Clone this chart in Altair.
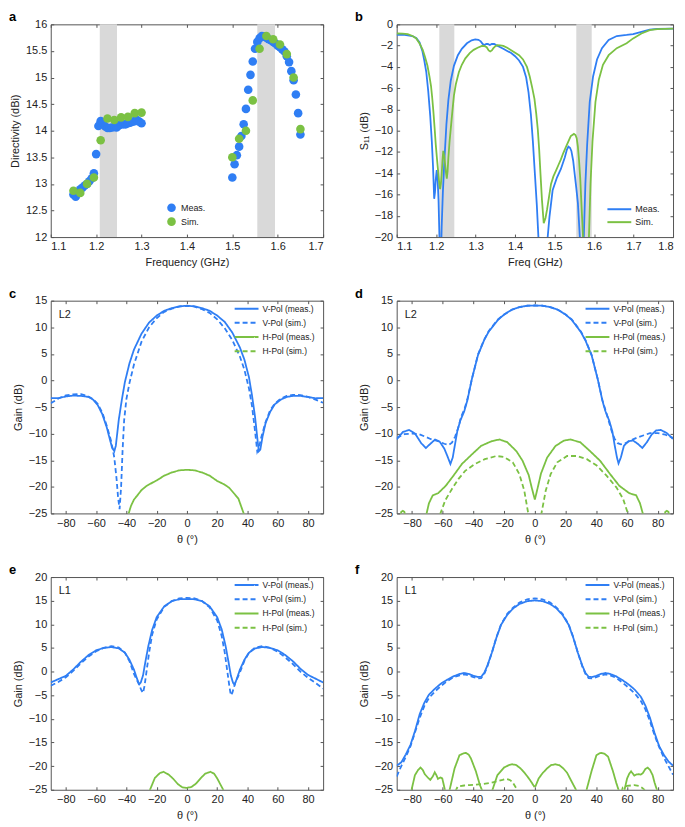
import altair as alt
import pandas as pd

FONT = "Liberation Sans"
BLUE = "#2f7ef4"
GREEN = "#7bc143"
BAND = "#d9d9d9"
FRAME = "#555555"
TXT = "#222222"

W1, W2, H = 274, 278, 214

# ---------------- panel a : directivity ----------------
a_meas_x = [1.150, 1.155, 1.160, 1.165, 1.170, 1.175, 1.180, 1.185, 1.190, 1.195, 1.200, 1.205, 1.210, 1.215, 1.220, 1.225,
            1.230, 1.235, 1.240, 1.245, 1.250, 1.255, 1.260, 1.265, 1.270, 1.275, 1.280, 1.285, 1.290, 1.295, 1.300,
            1.500, 1.505, 1.510, 1.515, 1.520, 1.525, 1.530, 1.535, 1.540, 1.545, 1.550, 1.555, 1.560, 1.565, 1.570,
            1.575, 1.580, 1.585, 1.590, 1.595, 1.600, 1.605, 1.610, 1.615, 1.620, 1.625, 1.630, 1.635, 1.640, 1.645, 1.650]
a_meas_y = [12.80, 12.76, 12.85, 12.90, 12.93, 12.97, 13.00, 13.05, 13.10, 13.20, 13.56, 14.09, 14.18, 14.15, 14.08, 14.05,
            14.05, 14.06, 14.07, 14.06, 14.10, 14.12, 14.12, 14.12, 14.14, 14.15, 14.17, 14.18, 14.20, 14.17, 14.14,
            13.12, 13.37, 13.54, 13.70, 13.90, 14.12, 14.41, 14.77, 15.05, 15.30, 15.54, 15.67, 15.74, 15.78, 15.77,
            15.75, 15.72, 15.70, 15.67, 15.64, 15.60, 15.57, 15.53, 15.49, 15.40, 15.29, 15.12, 14.95, 14.68, 14.33, 13.93]
a_sim_x = [1.150, 1.165, 1.180, 1.195, 1.210, 1.225, 1.240, 1.255, 1.270, 1.285, 1.300,
           1.500, 1.515, 1.530, 1.545, 1.560, 1.575, 1.590, 1.605, 1.620, 1.635, 1.650]
a_sim_y = [12.87, 12.83, 13.00, 13.12, 13.82, 14.23, 14.20, 14.25, 14.26, 14.33, 14.34,
           13.50, 13.85, 14.00, 14.57, 15.54, 15.78, 15.72, 15.62, 15.44, 15.00, 14.03]

band_lo = [1.208, 1.555]
band_hi = [1.246, 1.594]

# ---------------- panel b : S11 ----------------
b_meas_x = [1.100, 1.120, 1.140, 1.150, 1.158, 1.165, 1.170, 1.175, 1.180, 1.185, 1.189, 1.192, 1.195, 1.197, 1.199,
            1.2015, 1.204, 1.206, 1.208, 1.211, 1.214, 1.217, 1.221, 1.226, 1.231, 1.237, 1.245, 1.255, 1.265, 1.278,
            1.290, 1.299, 1.307, 1.313, 1.318, 1.322, 1.327, 1.331, 1.336, 1.341, 1.347, 1.352, 1.360, 1.370, 1.380,
            1.390, 1.400, 1.410, 1.420, 1.428, 1.434, 1.440, 1.445, 1.450, 1.455, 1.459, 1.470, 1.4825, 1.487, 1.495,
            1.506, 1.516, 1.526, 1.531, 1.535, 1.539, 1.5425, 1.547, 1.551, 1.555, 1.559, 1.564, 1.569, 1.574, 1.578,
            1.5825, 1.589, 1.5975, 1.6075, 1.620, 1.637, 1.6575, 1.6825, 1.699, 1.720, 1.741, 1.760, 1.800]
b_meas_y = [-1.0, -1.0, -1.1, -1.3, -1.7, -2.5, -3.4, -4.5, -6.3, -8.6, -11.0, -13.3, -16.4, -15.8, -14.6,
            -13.7, -14.8, -16.5, -19.5, -24.0, -19.0, -15.8, -12.7, -9.4, -7.1, -5.3, -3.9, -2.9, -2.3, -1.78,
            -1.5, -1.41, -1.45, -1.6, -1.85, -1.95, -1.85, -1.85, -1.95, -1.85, -1.85, -1.95, -2.1, -2.3, -2.5,
            -2.7, -3.0, -3.4, -4.0, -5.0, -6.4, -8.5, -11.0, -14.0, -17.0, -20.0, -28.0, -20.0, -18.1, -15.6,
            -14.4, -13.6, -12.5, -11.8, -11.5, -11.6, -11.9, -12.8, -14.1, -15.4, -16.8, -20.0, -26.0, -20.0, -15.0,
            -11.3, -7.3, -4.9, -3.3, -2.24, -1.47, -1.1, -1.0, -0.92, -0.7, -0.49, -0.42, -0.4]
b_sim_x = [1.100, 1.115, 1.128, 1.140, 1.149, 1.158, 1.166, 1.172, 1.178, 1.183, 1.187, 1.190, 1.193, 1.196, 1.199,
           1.202, 1.205, 1.208, 1.210, 1.212, 1.214, 1.216, 1.218, 1.2205, 1.2225, 1.225, 1.227, 1.229, 1.231, 1.234,
           1.237, 1.241, 1.245, 1.250, 1.2575, 1.265, 1.274, 1.285, 1.295, 1.305, 1.316, 1.323, 1.328, 1.333, 1.337,
           1.341, 1.345, 1.350, 1.355, 1.362, 1.370, 1.380, 1.395, 1.410, 1.420, 1.430, 1.437, 1.443, 1.449, 1.4535,
           1.4575, 1.461, 1.4645, 1.468, 1.4725, 1.477, 1.481, 1.486, 1.491, 1.497, 1.503, 1.510, 1.516, 1.522, 1.528,
           1.535, 1.541, 1.549, 1.553, 1.556, 1.559, 1.562, 1.565, 1.5675, 1.572, 1.579, 1.587, 1.591, 1.596, 1.6035,
           1.612, 1.6225, 1.637, 1.6575, 1.6825, 1.699, 1.720, 1.741, 1.760, 1.800]
b_sim_y = [-0.86, -0.88, -0.92, -1.1, -1.3, -1.8, -2.4, -3.1, -3.9, -4.9, -5.8, -6.9, -8.2, -9.7, -11.3,
           -12.6, -13.8, -15.0, -15.5, -15.0, -14.1, -12.8, -11.9, -12.4, -13.1, -14.0, -14.5, -13.8, -12.5, -11.0,
           -9.8, -8.2, -6.7, -5.6, -4.5, -3.8, -3.2, -2.7, -2.4, -2.2, -2.03, -2.05, -2.15, -2.45, -2.55,
           -2.45, -2.24, -2.05, -1.96, -1.97, -2.03, -2.2, -2.55, -2.9, -3.3, -4.0, -4.9, -5.9, -7.0, -8.4,
           -9.9, -11.8, -14.2, -16.5, -18.7, -18.2, -17.4, -16.2, -15.0, -14.3, -13.8, -13.2, -12.7, -12.1, -11.6,
           -11.0, -10.5, -10.3, -10.4, -10.7, -11.5, -12.8, -14.5, -16.5, -20.0, -26.0, -20.0, -15.0, -11.0, -7.3,
           -5.2, -3.8, -2.9, -2.24, -1.78, -1.32, -0.86, -0.55, -0.45, -0.4]

# ---------------- panel c : L2 ----------------
c_vm_t = [-90, -85, -80, -75, -70, -65, -62, -59, -56, -53, -51, -49.5, -48, -47, -46, -45, -43, -41, -38, -35, -30, -25,
          -20, -15, -10, -5, 0, 5, 10, 15, 20, 25, 30, 35, 38, 41, 43, 45, 46.5, 47.5, 48.5, 50, 52, 55, 58, 62, 66,
          70, 75, 80, 85, 90]
c_vm_g = [-3.3, -3.35, -3.0, -2.85, -2.9, -3.1, -3.6, -4.6, -6.3, -8.8, -11.0, -12.6, -13.3, -12.3, -9.8, -7.3, -3.6,
          -0.3, 3.2, 5.8, 8.8, 10.9, 12.2, 13.1, 13.6, 13.95, 14.05, 13.95, 13.6, 13.1, 12.2, 11.0, 9.0, 6.2, 3.9, 0.6,
          -2.8, -6.8, -10.8, -13.3, -13.0, -10.5, -8.0, -5.9, -4.5, -3.6, -3.1, -2.9, -2.9, -3.1, -3.35, -3.3]
c_vs_t = [-90, -85, -80, -75, -70, -66, -62, -59, -56, -53, -50, -48, -46.5, -45.5, -44.5, -43.5, -42.5, -41.5, -40,
          -38, -35, -30, -25, -20, -15, -10, -5, 0, 5, 10, 15, 20, 25, 30, 35, 38, 41, 43, 45, 46.5, 47.5, 49, 52,
          55, 58, 62, 66, 70, 75, 80, 85, 90]
c_vs_g = [-4.3, -3.4, -2.8, -2.6, -2.55, -2.9, -3.5, -4.4, -6.0, -8.5, -11.5, -14.5, -18.5, -22.0, -24.2, -20.0,
          -13.0, -7.5, -3.5, -0.5, 3.0, 7.3, 10.0, 11.7, 12.9, 13.5, 13.9, 14.0, 13.9, 13.4, 12.7, 11.5, 9.8, 7.6,
          4.5, 2.0, -1.5, -4.8, -9.5, -13.4, -12.8, -10.8, -7.8, -5.6, -4.4, -3.4, -2.9, -2.7, -2.75, -3.1, -3.6, -4.2]
c_hm_t = [-40, -38.5, -37, -35, -33, -30, -27, -24, -20, -15, -10, -5, 0, 5, 10, 15, 20, 25, 28, 31, 34, 36,
          37.5, 39]
c_hm_g = [-27.0, -25.0, -23.6, -22.4, -21.7, -20.6, -19.9, -19.4, -18.8, -17.9, -17.3, -16.9, -16.8, -16.9, -17.3,
          -17.9, -18.9, -19.6, -20.2, -21.2, -22.2, -23.8, -25.0, -27.0]

# ---------------- panel d : L2 ----------------
d_vm_t = [-90, -86, -82, -78, -74, -71, -68, -65, -62, -59, -57, -55, -53.5, -52, -50.5, -48.5, -46, -44, -41, -37,
          -33, -30, -24, -20, -15, -10, -5, 0, 5, 10, 15, 20, 24, 30, 33, 37, 41, 44, 46, 48.5, 50.5, 52, 53.5,
          54.5, 56, 58, 61, 64, 67, 70, 73, 76, 79, 82, 86, 90]
d_vm_g = [-11.1, -9.7, -9.3, -10.0, -11.8, -12.7, -11.9, -11.1, -11.5, -12.8, -14.2, -15.7, -14.5, -12.0, -9.5,
          -7.5, -5.8, -3.8, 0.3, 4.8, 7.6, 9.2, 11.4, 12.4, 13.3, 13.8, 14.05, 14.1, 14.05, 13.8, 13.3, 12.4, 11.4,
          9.1, 7.5, 4.7, 0.2, -3.8, -5.8, -7.6, -9.6, -12.2, -14.5, -15.6, -14.5, -12.3, -11.4, -11.3, -11.9, -12.7,
          -11.6, -10.2, -9.4, -9.3, -9.9, -11.0]
d_vs_t = [-90, -85, -80, -76, -72, -68, -63, -59, -56, -54, -52, -50, -48, -46, -44, -41, -37, -33, -30, -24, -20,
          -15, -10, -5, 0, 5, 10, 15, 20, 24, 30, 33, 37, 41, 44, 46, 48, 50, 52, 54, 56, 59, 63, 67, 71, 75, 80,
          85, 90]
d_vs_g = [-10.8, -10.1, -10.0, -10.05, -10.5, -11.0, -11.4, -11.9, -12.1, -11.7, -10.6, -9.0, -6.8, -5.5, -3.6,
          0.3, 4.9, 7.7, 9.3, 11.5, 12.4, 13.3, 13.8, 14.05, 14.1, 14.05, 13.8, 13.3, 12.4, 11.5, 9.2, 7.6, 4.8,
          0.2, -3.7, -5.6, -7.5, -9.5, -11.0, -11.8, -12.0, -11.8, -11.2, -10.7, -10.3, -9.9, -9.9, -10.2, -10.8]
d_hm_t = [-90, -88, -87, -86, -85, -84, -80, -72, -70.5, -69, -66.5, -63, -58, -53, -47.5, -41, -35, -28, -23,
          -18, -12, -8, -4, -2, 0, 2, 4, 8, 13.5, 19, 23, 29.5, 36, 42.5, 49, 55, 61.5, 66, 68.5, 70.3, 72, 80,
          84, 85, 86, 87, 88, 90]
d_hm_g = [-27.0, -26.0, -24.7, -24.5, -24.7, -26.0, -30.0, -28.0, -25.0, -23.1, -21.6, -21.2, -19.8, -17.9, -15.7,
          -13.9, -12.3, -11.4, -11.1, -11.6, -13.3, -15.1, -17.8, -20.2, -22.4, -20.0, -17.5, -14.5, -12.3, -11.3,
          -11.1, -11.6, -13.3, -15.1, -17.6, -19.8, -21.2, -21.6, -23.1, -25.0, -28.0, -30.0, -26.0, -24.7, -24.5,
          -24.7, -26.0, -27.0]
d_hs_t = [-65, -61.5, -58.3, -54, -49.7, -45.4, -39, -32.6, -25, -20, -14.4, -10.1, -6.9, -4.3, -2, 0, 2, 4.3,
          7.1, 10.3, 14.6, 21, 27.4, 33.9, 40.3, 46.7, 53.1, 57.4, 60.6, 64]
d_hs_g = [-28.0, -25.0, -22.5, -20.4, -18.5, -17.0, -15.7, -14.8, -14.2, -14.4, -15.4, -17.6, -20.7, -25.0, -30.0,
          -35.0, -30.0, -25.0, -20.7, -17.6, -15.4, -14.2, -14.2, -14.8, -16.0, -17.9, -20.1, -22.2, -25.0, -28.0]

# ---------------- panel e : L1 ----------------
e_vm_t = [-90, -85, -80, -75, -70, -65, -60, -55, -50, -45, -41, -38, -35, -33, -31.5, -30.5, -29, -27.5, -25.5,
          -23, -20, -15, -10, -5, 0, 5, 10, 15, 20, 23, 25.5, 27.5, 29, 30.5, 31.5, 33, 35, 38, 41, 45, 50, 55,
          60, 65, 70, 75, 80, 85, 90]
e_vm_g = [-2.3, -1.6, -0.9, 0.5, 2.1, 3.5, 4.5, 5.0, 5.2, 4.9, 4.0, 2.5, 0.4, -1.5, -2.7, -2.3, -0.8, 2.0, 5.4,
          8.8, 11.5, 13.8, 14.9, 15.3, 15.35, 15.3, 14.9, 13.8, 11.5, 8.9, 5.5, 2.0, -0.8, -2.4, -2.8, -1.5, 0.4,
          2.5, 4.0, 4.9, 5.2, 5.0, 4.5, 3.5, 2.2, 0.6, -0.7, -1.5, -2.3]
e_vs_t = [-90, -85, -80, -75, -70, -65, -60, -55, -50, -45, -41, -38, -35, -32, -30, -29, -28, -26.5, -25, -23,
          -20, -15, -10, -5, 0, 5, 10, 15, 20, 23, 25, 26.5, 28, 29, 30, 32, 35, 38, 41, 45, 50, 55, 60, 65, 70,
          75, 80, 85, 90]
e_vs_g = [-3.0, -2.2, -1.2, 0.2, 1.8, 3.2, 4.3, 5.0, 5.4, 5.1, 4.0, 2.2, -0.5, -2.5, -4.0, -4.5, -3.0, 0.5, 4.0,
          7.8, 11.0, 13.7, 14.9, 15.5, 15.6, 15.5, 14.9, 13.6, 10.8, 7.5, 4.0, 0.5, -3.0, -5.0, -4.5, -2.3, -0.2,
          2.3, 4.0, 5.1, 5.4, 5.0, 4.2, 3.0, 1.6, 0.0, -1.3, -2.4, -3.6]
e_hm_t = [-26, -24.4, -21.2, -18, -15.5, -12, -9, -6, -3, 0, 3, 6, 9, 12, 15.5, 18, 20, 22, 24, 25.5]
e_hm_g = [-27.0, -25.0, -22.5, -21.5, -21.2, -21.8, -22.7, -23.8, -24.5, -24.6, -24.4, -23.7, -22.6, -21.6, -21.2,
          -21.6, -22.6, -23.8, -25.0, -27.0]

# ---------------- panel f : L1 ----------------
f_vm_t = [-90, -87, -84, -81, -78, -75, -72, -69, -65, -61, -57, -53, -49, -46, -43, -40, -37, -35, -33, -31, -28,
          -25, -22, -18, -14, -10, -5, 0, 5, 10, 14, 18, 22, 25, 28, 31, 33, 35, 37, 40, 43, 46, 49, 53, 57, 61,
          65, 69, 72, 75, 78, 81, 84, 87, 90]
f_vm_g = [-19.9, -19.2, -17.5, -15.5, -12.5, -9.0, -6.6, -4.9, -3.6, -2.5, -1.7, -1.0, -0.5, -0.3, -0.5, -0.9,
          -1.15, -1.1, -0.3, 1.2, 4.0, 7.2, 9.9, 12.0, 13.4, 14.3, 14.9, 15.05, 14.9, 14.3, 13.4, 12.0, 9.9, 7.2,
          4.0, 1.2, -0.3, -1.1, -1.15, -0.9, -0.5, -0.3, -0.5, -1.0, -1.8, -2.7, -3.8, -5.3, -7.2, -9.8, -13.0,
          -15.8, -17.6, -19.0, -19.9]
f_vs_t = f_vm_t
f_vs_g = [-22.2, -20.0, -18.0, -15.8, -12.8, -9.8, -7.3, -5.6, -4.2, -3.0, -2.0, -1.2, -0.8, -0.6, -0.8, -1.2,
          -1.45, -1.4, -0.5, 1.0, 4.0, 7.3, 10.0, 12.2, 13.6, 14.6, 15.3, 15.5, 15.3, 14.6, 13.6, 12.2, 10.0, 7.3,
          4.0, 1.0, -0.5, -1.4, -1.45, -1.2, -0.8, -0.6, -0.8, -1.3, -2.3, -3.4, -4.6, -6.2, -8.0, -10.5, -13.5,
          -16.0, -18.2, -20.0, -21.8]
f_hm_t = [-82, -80.3, -78.1, -76, -74.5, -73, -71.7, -69.5, -68.1, -66.5, -65.2, -64, -63.1, -61.5, -60.3, -58.8,
          -57.5, -56.5, -55.5, -52.3, -49.1, -46.5, -44.8, -43, -41.6, -38.4, -35.8, -34.5, -31, -27.6, -24.4,
          -20.1, -17, -14.7, -12, -9.3, -6.5, -3.9, -2, -0.5, 0.5, 2.5, 5, 7.9, 10.5, 13.2, 16, 18.6, 21, 22.9,
          25, 26.8, 30, 33.7, 36.9, 40.1, 42, 43.3, 45.5, 47.7, 50.9, 53, 54.5, 56.5, 58.4, 60.1, 61.5, 62.7,
          64.8, 66, 67.4, 69, 70.3, 72, 73.5, 75, 76.7, 78, 79.5, 81]
f_hm_g = [-27.0, -25.0, -21.9, -20.8, -20.3, -20.8, -21.7, -22.5, -22.9, -22.2, -21.3, -22.0, -22.7, -22.4, -22.6,
          -24.7, -27.0, -27.0, -25.0, -20.5, -17.7, -17.3, -17.2, -17.6, -18.4, -21.1, -24.0, -25.0, -28.0, -25.0,
          -21.9, -20.3, -19.8, -19.6, -19.8, -20.5, -21.5, -22.6, -23.5, -24.3, -24.2, -22.6, -21.5, -20.5, -19.8,
          -19.6, -19.8, -20.5, -21.4, -22.6, -23.9, -25.0, -28.0, -25.0, -21.1, -17.7, -17.3, -17.2, -17.4, -18.0,
          -21.1, -23.5, -25.0, -27.0, -25.0, -22.6, -21.6, -21.1, -22.0, -21.8, -21.7, -21.8, -21.5, -20.6, -20.3,
          -20.8, -21.9, -23.5, -25.0, -27.0]
f_hs_t = [-53, -51.3, -50.2, -46, -42.7, -38, -34.1, -30, -25.5, -21, -19, -16.5, -14.7, -13, -11.5, -10, 20, 55,
          57.3, 60, 64.8, 68, 70, 71.3, 73]
f_hs_g = [-27.0, -25.0, -24.3, -24.1, -24.0, -23.9, -23.8, -23.6, -23.3, -22.9, -22.7, -22.9, -23.3, -24.2, -25.0,
          -27.0, -32.0, -27.0, -24.5, -24.2, -24.0, -24.2, -24.6, -25.0, -27.0]

SER = ["V-Pol (meas.)", "V-Pol (sim.)", "H-Pol (meas.)", "H-Pol (sim.)"]
LINE_SYMBOL = "M-2,0H2"


def make_df(series):
    frames = [pd.DataFrame({"x": xs, "y": ys, "series": name}) for name, xs, ys in series]
    return pd.concat(frames, ignore_index=True)


def axis(vals, fmt, title, orient):
    return alt.Axis(orient=orient, values=vals, format=fmt, title=title, offset=-3, tickSize=3,
                    labelPadding=4, titlePadding=5, domain=False, grid=False)


def mirror_axis(vals, orient):
    return alt.Axis(orient=orient, values=vals, labels=False, title=None, offset=-3, tickSize=3,
                    domain=False, grid=False, minExtent=0, maxExtent=0)


def letter_layer(t):
    return alt.Chart(pd.DataFrame({"t": [t]})).mark_text(
        align="left", baseline="alphabetic", fontSize=13, fontWeight="bold", font=FONT, color="black").encode(
        text="t:N", x=alt.value(-42), y=alt.value(-3))


def frame_layer(xs, ys, xvals, yvals):
    df = pd.DataFrame({"x": xs["domain"], "y": ys["domain"]})
    return alt.Chart(df).mark_point(opacity=0).encode(
        x=alt.X("x:Q", scale=alt.Scale(**xs), axis=mirror_axis(xvals, "top")),
        y=alt.Y("y:Q", scale=alt.Scale(**ys), axis=mirror_axis(yvals, "right")),
    )


def band_layer(xs):
    df = pd.DataFrame({"lo": band_lo, "hi": band_hi})
    return alt.Chart(df).mark_rect(color=BAND).encode(
        x=alt.X("lo:Q", scale=alt.Scale(**xs), axis=None), x2="hi:Q")


# ---- panel a
xs_a = dict(domain=[1.1, 1.7], nice=False, zero=False)
ys_a = dict(domain=[12, 16], nice=False, zero=False)
xv_a = [1.1, 1.2, 1.3, 1.4, 1.5, 1.6, 1.7]
yv_a = [12, 12.5, 13, 13.5, 14, 14.5, 15, 15.5, 16]
df_a = make_df([("Meas.", a_meas_x, a_meas_y), ("Sim.", a_sim_x, a_sim_y)])
pts_a = alt.Chart(df_a).mark_circle(size=75, opacity=1).encode(
    x=alt.X("x:Q", scale=alt.Scale(**xs_a), axis=axis(xv_a, ".1f", "Frequency (GHz)", "bottom")),
    y=alt.Y("y:Q", scale=alt.Scale(**ys_a), axis=axis(yv_a, ".1~f", "Directivity (dBi)", "left")),
    color=alt.Color("series:N", scale=alt.Scale(domain=["Meas.", "Sim."], range=[BLUE, GREEN]),
                    legend=alt.Legend(orient="none", legendX=117, legendY=180, title=None, symbolType="circle",
                                      symbolSize=75, symbolStrokeWidth=0, labelFontSize=9, rowPadding=4,
                                      labelOffset=5, padding=0)),
)
pa = alt.layer(band_layer(xs_a), pts_a, letter_layer("a"), frame_layer(xs_a, ys_a, xv_a, yv_a)).resolve_axis(
    x="independent", y="independent").properties(width=W1, height=H)

# ---- panel b
xs_b = dict(domain=[1.1, 1.8], nice=False, zero=False)
ys_b = dict(domain=[-20, 0], nice=False, zero=False)
xv_b = [1.1, 1.2, 1.3, 1.4, 1.5, 1.6, 1.7, 1.8]
yv_b = [-20, -18, -16, -14, -12, -10, -8, -6, -4, -2, 0]
df_b = make_df([("Meas.", b_meas_x, b_meas_y), ("Sim.", b_sim_x, b_sim_y)])
lines_b = alt.Chart(df_b).mark_line(strokeWidth=1.8, clip=True).encode(
    x=alt.X("x:Q", scale=alt.Scale(**xs_b), axis=axis(xv_b, ".1f", "Freq (GHz)", "bottom")),
    y=alt.Y("y:Q", scale=alt.Scale(**ys_b), axis=axis(yv_b, "d", "S₁₁ (dB)", "left")),
    color=alt.Color("series:N", scale=alt.Scale(domain=["Meas.", "Sim."], range=[BLUE, GREEN]),
                    legend=alt.Legend(orient="none", legendX=217, legendY=179, title=None, symbolType=LINE_SYMBOL,
                                      symbolSize=144, symbolStrokeWidth=2, labelFontSize=9, rowPadding=1,
                                      labelOffset=9, padding=0)),
)
pb = alt.layer(band_layer(xs_b), lines_b, letter_layer("b"), frame_layer(xs_b, ys_b, xv_b, yv_b)).resolve_axis(
    x="independent", y="independent").properties(width=W2, height=H)


# ---- gain panels
def gain_panel(tag, label, series, ydom, yvals, width, legx):
    xs = dict(domain=[-90, 90], nice=False, zero=False)
    ys = dict(domain=ydom, nice=False, zero=False)
    xv = [-80, -60, -40, -20, 0, 20, 40, 60, 80]
    df = make_df(series)
    leg = alt.Legend(orient="none", legendX=legx, legendY=1, title=None, symbolType=LINE_SYMBOL, symbolSize=144,
                     symbolStrokeWidth=2, labelFontSize=8.5, rowPadding=2.3, labelOffset=9, padding=0)
    lines = alt.Chart(df).mark_line(strokeWidth=1.8, clip=True).encode(
        x=alt.X("x:Q", scale=alt.Scale(**xs), axis=axis(xv, "d", "θ (°)", "bottom")),
        y=alt.Y("y:Q", scale=alt.Scale(**ys), axis=axis(yvals, "d", "Gain (dB)", "left")),
        color=alt.Color("series:N", scale=alt.Scale(domain=SER, range=[BLUE, BLUE, GREEN, GREEN]), legend=leg),
        strokeDash=alt.StrokeDash("series:N", scale=alt.Scale(domain=SER, range=[[1, 0], [5, 3], [1, 0], [5, 3]]),
                                  legend=leg),
    )
    txt = alt.Chart(pd.DataFrame({"t": [label]})).mark_text(
        align="left", baseline="middle", fontSize=11, font=FONT, color=TXT).encode(
        text="t:N", x=alt.value(8), y=alt.value(14))
    return alt.layer(lines, txt, letter_layer(tag), frame_layer(xs, ys, xv, yvals)).resolve_axis(
        x="independent", y="independent").properties(width=width, height=H)


yv_cd = [-25, -20, -15, -10, -5, 0, 5, 10, 15]
yv_ef = [-25, -20, -15, -10, -5, 0, 5, 10, 15, 20]
pc = gain_panel("c", "L2", [(SER[0], c_vm_t, c_vm_g), (SER[1], c_vs_t, c_vs_g), (SER[2], c_hm_t, c_hm_g)],
                [-25, 15], yv_cd, W1, 190)
pd_ = gain_panel("d", "L2", [(SER[0], d_vm_t, d_vm_g), (SER[1], d_vs_t, d_vs_g), (SER[2], d_hm_t, d_hm_g),
                             (SER[3], d_hs_t, d_hs_g)], [-25, 15], yv_cd, W2, 195)
pe = gain_panel("e", "L1", [(SER[0], e_vm_t, e_vm_g), (SER[1], e_vs_t, e_vs_g), (SER[2], e_hm_t, e_hm_g)],
                [-25, 20], yv_ef, W1, 190)
pf = gain_panel("f", "L1", [(SER[0], f_vm_t, f_vm_g), (SER[1], f_vs_t, f_vs_g), (SER[2], f_hm_t, f_hm_g),
                            (SER[3], f_hs_t, f_hs_g)], [-25, 20], yv_ef, W2, 195)

chart = alt.concat(pa, pb, pc, pd_, pe, pf, columns=2, spacing={"row": 64, "column": 74}, bounds="flush").resolve_scale(
    color="independent", strokeDash="independent").resolve_legend(
    color="independent", strokeDash="independent").properties(padding=0).configure_axis(
    labelFont=FONT, titleFont=FONT, labelFontSize=11, titleFontSize=11, titleFontWeight="normal",
    labelColor=TXT, titleColor=TXT, tickColor=FRAME, tickWidth=1).configure_view(
    stroke=FRAME, strokeWidth=1).configure_legend(labelFont=FONT, labelColor=TXT)

chart.save("out.html", embed_options={"renderer": "svg", "actions": False})
